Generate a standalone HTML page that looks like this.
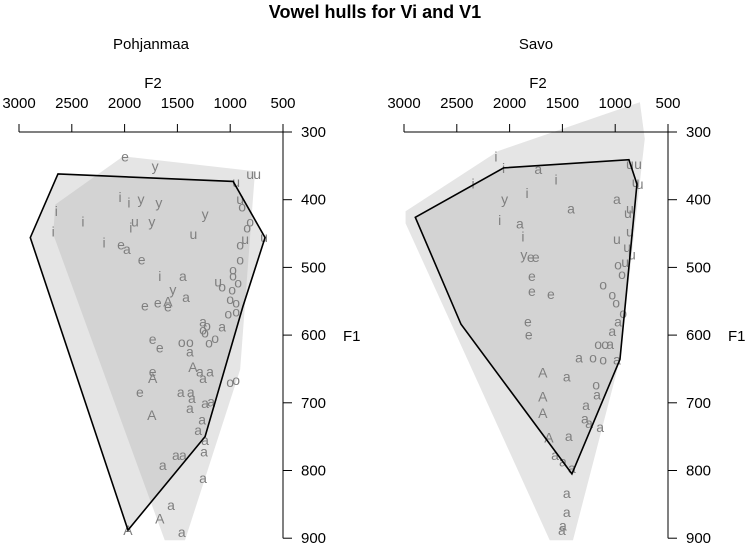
<!DOCTYPE html>
<html><head><meta charset="utf-8"><style>
body{margin:0;background:#fff}
svg{display:block;font-family:"Liberation Sans",Arial,sans-serif}
</style></head><body>
<svg id="chart" width="750" height="551">
<text x="375" y="18" text-anchor="middle" font-size="18" font-weight="bold">Vowel hulls for Vi and V1</text>
</svg>
<script>
const panelNames = ["Pohjanmaa", "Savo"];
const f2Ticks = [3000, 2500, 2000, 1500, 1000, 500];
const f1Ticks = [300, 400, 500, 600, 700, 800, 900];

const leftLabels = ["e","y","u","u","u","i","i","y","y","u","o","i","i","u","i","y","y","o","o","i","u","u","i","e","a","u","o","e","u","o","i","a","o","o","o","o","y","a","e","e","e","A","o","o","o","o","o","a","o","o","a","o","e","e","o","o","o","o","a","A","a","a","a","A","e","e","a","a","a","o","o","a","a","a","A","a","a","a","a","a","a","a","a","a","A","A","a"];
const leftF2 = [1996,1711,811,745,944,2043,1959,1845,1675,906,887,2647,2394,1903,1941,1742,1238,811,840,2676,859,680,2195,2034,1978,1349,906,1838,1114,906,1667,1448,973,973,925,982,1543,1418,1808,1686,1590,1590,1076,1000,944,1018,944,1257,1220,1257,1076,1238,1734,1667,1458,1382,1200,1143,1382,1353,1287,1191,1257,1734,1734,1855,1468,1373,1363,1000,944,1382,1238,1181,1743,1266,1303,1238,1248,1514,1448,1638,1257,1560,1667,1968,1458];
const leftF1 = [336,350,362,362,374,396,404,399,404,399,410,417,432,432,441,432,421,432,441,447,458,455,463,466,473,451,466,488,521,488,513,513,503,512,522,533,533,544,556,552,558,550,528,547,552,568,565,580,586,592,587,596,606,618,610,610,611,604,624,647,654,654,663,663,654,684,684,684,693,669,666,708,700,698,718,725,740,755,772,777,777,792,811,851,871,888,891];
const leftHullF2 = [2631,972,670,880,1238,1968,2893];
const leftHullF1 = [362,373,456,558,750,888,456];
const leftHull2F2 = [2014,765,906,1428,1620,2676,2656];
const leftHull2F1 = [336,358,651,903,903,451,407];

const rightLabels = ["i","i","a","i","i","u","u","u","u","y","i","a","a","u","u","i","a","u","u","u","i","y","e","e","u","u","o","o","e","e","e","o","o","o","o","e","a","e","a","o","o","a","a","o","o","a","A","a","o","a","a","A","A","a","a","a","a","A","a","a","a","a","a","a","a"];
const rightF2 = [2129,2057,1728,1560,2346,861,784,806,768,2047,1835,984,1418,861,880,2094,1903,984,861,842,1874,1865,1800,1752,887,906,973,935,1789,1789,1609,1114,1028,991,925,1827,973,1818,1028,1162,1095,1048,1343,1210,1114,984,1686,1458,1181,1172,1276,1686,1686,1287,1248,1143,1440,1628,1570,1495,1410,1458,1458,1495,1505];
const rightF1 = [336,353,355,370,376,347,347,374,377,399,390,399,413,413,420,430,435,458,447,481,454,481,485,485,470,492,496,510,513,535,539,525,540,552,567,580,580,599,594,613,613,613,633,633,636,636,655,661,673,688,703,691,715,723,730,736,749,751,777,787,796,833,861,881,888];
const rightHullF2 = [2893,2057,870,794,955,1410,2460];
const rightHullF1 = [426,353,341,377,636,805,584];
const rightHull2F2 = [2985,2107,766,720,955,1400,1620,2985];
const rightHull2F1 = [417,328,256,310,636,903,903,435];

const svg = document.getElementById('chart');
const NS = 'http://www.w3.org/2000/svg';
function mk(tag, attrs, parent){const e=document.createElementNS(NS,tag);for(const k in attrs)e.setAttribute(k,attrs[k]);(parent||svg).appendChild(e);return e;}

function drawPanel(idx, offset, labels, f2, f1, hF2, hF1, h2F2, h2F1){
  const xs = v => offset + 19 + (3000 - v) * 0.1056;
  const ys = v => 132 + (v - 300) * 0.677;
  const g = mk('g', {});
  
  
  const pts1 = hF2.map((v,i)=>xs(v)+','+ys(hF1[i])).join(' ');
  const pts2 = h2F2.map((v,i)=>xs(v)+','+ys(h2F1[i])).join(' ');
  const cid = 'clip' + idx;
  const defs = mk('defs', {}, g);
  const cp = mk('clipPath', {id: cid}, defs);
  mk('polygon', {points: pts1}, cp);
  const hb = mk('polygon', {points: pts2, fill: '#e5e5e5', stroke: 'none'}, g);
  
  
  const ha = mk('polygon', {points: pts1, fill: '#e5e5e5', stroke: 'none'}, g);
  
  
  const ov = mk('polygon', {points: pts2, fill: '#d3d3d3', 'clip-path': 'url(#' + cid + ')'}, g);
  
  
  labels.forEach((l,i)=>{
    const t = mk('text', {x: xs(f2[i]), y: ys(f1[i]) + 5, 'text-anchor': 'middle', 'font-size': 14, fill: '#7f7f7f'}, g);
    t.textContent = l;
    
    
  });
  const outline = mk('polygon', {points: pts1, fill: 'none', stroke: '#000', 'stroke-width': 1.6}, g);
  
  
  // top axis
  const ax = mk('g', {}, g);
  
  
  mk('line', {x1: xs(3000), x2: xs(500), y1: 132, y2: 132, stroke: '#000'}, ax);
  f2Ticks.forEach(v=>{
    mk('line', {x1: xs(v), x2: xs(v), y1: 124, y2: 132, stroke: '#000'}, ax);
    const t = mk('text', {x: xs(v), y: 108, 'text-anchor': 'middle', 'font-size': 15}, ax);
    t.textContent = v;
    
    
  });
  const ay = mk('g', {}, g);
  
  
  mk('line', {x1: xs(500), x2: xs(500), y1: 124, y2: ys(900), stroke: '#000'}, ay);
  f1Ticks.forEach(v=>{
    mk('line', {x1: xs(500), x2: xs(500) + 9, y1: ys(v), y2: ys(v), stroke: '#000'}, ay);
    const t = mk('text', {x: xs(500) + 18, y: ys(v) + 5, 'font-size': 15}, ay);
    t.textContent = v;
    
    
  });
  const f2t = mk('text', {x: offset + 153, y: 88, 'text-anchor': 'middle', 'font-size': 15}, g);
  f2t.textContent = 'F2';
  
  
  const f1t = mk('text', {x: xs(500) + 60, y: 341, 'font-size': 15}, g);
  f1t.textContent = 'F1';
  
  
  const pt = mk('text', {x: offset + 151, y: 49, 'text-anchor': 'middle', 'font-size': 15}, g);
  pt.textContent = panelNames[idx];
  
  
}
drawPanel(0, 0, leftLabels, leftF2, leftF1, leftHullF2, leftHullF1, leftHull2F2, leftHull2F1);
drawPanel(1, 385, rightLabels, rightF2, rightF1, rightHullF2, rightHullF1, rightHull2F2, rightHull2F1);
</script>
</body></html>
